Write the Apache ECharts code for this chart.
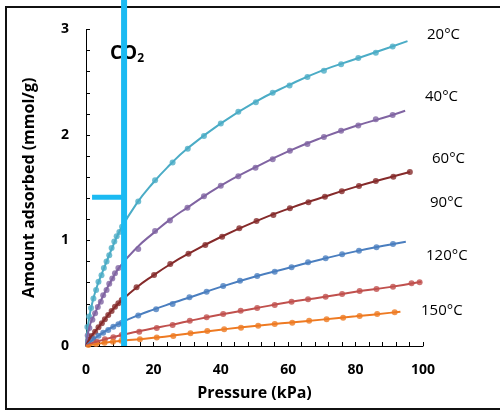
<!DOCTYPE html>
<html>
<head>
<meta charset="utf-8">
<script src="https://cdn.jsdelivr.net/npm/echarts@6/dist/echarts.min.js"></script>
<style>
  html, body { margin: 0; padding: 0; background: #fff; }
  #chart { width: 500px; height: 411px; }
</style>
</head>
<body>
<div id="chart"></div>
<script>
var t20 = [[0.4,0.18],[0.9,0.28],[1.5,0.36],[2.2,0.45],[3.0,0.53],[3.7,0.61],[4.6,0.67],[5.3,0.74],[6.1,0.80],[6.9,0.86],[7.6,0.93],[8.4,0.99],[9.1,1.04],[9.9,1.08],[10.7,1.13],[15.5,1.37],[20.5,1.57],[25.7,1.74],[30.2,1.87],[35,1.99],[40,2.11],[45.2,2.22],[50.4,2.31],[55.4,2.40],[60.4,2.47],[65.7,2.55],[70.6,2.61],[75.7,2.67],[80.8,2.73],[86,2.78],[91,2.84]]
var t40 = [[0.5,0.10],[1.0,0.17],[1.9,0.25],[2.7,0.31],[3.5,0.37],[4.4,0.42],[5.1,0.48],[6.1,0.53],[6.9,0.59],[7.8,0.64],[8.6,0.69],[9.6,0.74],[15.5,0.92],[20.5,1.09],[24.9,1.19],[30.1,1.31],[35,1.42],[40,1.52],[45.2,1.61],[50.3,1.69],[55.4,1.77],[60.5,1.85],[65.7,1.915],[70.6,1.98],[75.7,2.04],[80.8,2.09],[86,2.15],[91,2.19]]
var t60 = [[0.7,0.057],[1.7,0.095],[2.7,0.136],[3.7,0.177],[4.7,0.215],[5.6,0.253],[6.6,0.294],[7.6,0.332],[8.6,0.373],[9.6,0.405],[10.6,0.436],[15,0.556],[20.2,0.673],[25,0.777],[30.4,0.875],[35.4,0.957],[40.4,1.036],[45.5,1.115],[50.6,1.185],[55.6,1.242],[60.5,1.305],[66,1.362],[70.9,1.415],[75.9,1.466],[81,1.517],[86,1.564],[91.2,1.605],[96.1,1.649]]
var t90 = [[0.7,0.041],[2.2,0.066],[3.7,0.098],[5.1,0.126],[6.6,0.152],[8.1,0.183],[9.6,0.205],[10.6,0.22],[15.5,0.29],[20.8,0.348],[25.7,0.398],[30.7,0.461],[35.8,0.515],[40.7,0.569],[45.7,0.619],[50.8,0.664],[56,0.704],[61,0.746],[65.9,0.793],[71.1,0.831],[76,0.869],[81,0.903],[86.2,0.936],[91.1,0.967]]
var t120 = [[0.7,0.026],[3.2,0.041],[5.6,0.063],[8.1,0.082],[10.6,0.104],[15.8,0.136],[21,0.17],[25.7,0.199],[30.8,0.24],[35.8,0.272],[40.7,0.303],[45.9,0.335],[50.8,0.36],[56,0.389],[61,0.42],[65.9,0.443],[71.1,0.467],[76,0.493],[81.2,0.521],[86.2,0.54],[91.1,0.562],[96.6,0.594],[99,0.604]]
var t150 = [[0.7,0.01],[3,0.02],[5.5,0.03],[8,0.04],[10.5,0.05],[16,0.063],[21,0.08],[25.9,0.095],[31,0.12],[36,0.142],[41,0.158],[46,0.173],[51.1,0.192],[56,0.209],[61.2,0.221],[66.2,0.24],[71.4,0.253],[76.3,0.268],[81.2,0.284],[86.4,0.303],[91.6,0.319]]

// fitted curves
var f20 = [[0,0],[0.5,0.17],[1.5,0.36],[3,0.54],[5,0.71],[7.5,0.91],[10,1.09],[15,1.35],[20,1.55],[25,1.72],[30,1.87],[40,2.11],[50,2.31],[60,2.47],[70,2.61],[80,2.72],[90,2.83],[95.4,2.89]]
var f40 = [[0,0],[1,0.18],[2.5,0.30],[5,0.47],[7.5,0.62],[10,0.75],[15,0.93],[20,1.07],[25,1.2],[30,1.31],[40,1.52],[50,1.69],[60,1.845],[70,1.975],[80,2.085],[90,2.18],[94.7,2.23]]
var f60 = [[0,0],[1,0.065],[2.5,0.13],[5,0.23],[7.5,0.33],[10,0.415],[15,0.555],[20,0.67],[25,0.775],[30,0.868],[40,1.033],[50,1.177],[60,1.30],[70,1.407],[80,1.508],[90,1.597],[96.1,1.649]]
var f90 = [[0,0],[2.5,0.07],[5,0.125],[7.5,0.175],[10,0.215],[15,0.285],[20,0.345],[25,0.40],[30,0.452],[40,0.56],[50,0.657],[60,0.74],[70,0.823],[80,0.897],[90,0.96],[94.9,0.989]]
var f120 = [[0,0],[2.5,0.035],[5,0.058],[10,0.1],[15,0.135],[20,0.168],[25,0.198],[30,0.233],[40,0.298],[50,0.356],[60,0.414],[70,0.462],[80,0.514],[90,0.558],[99.5,0.61]]
var f150 = [[0,0],[5,0.028],[10,0.048],[15,0.062],[20,0.078],[25,0.095],[30,0.116],[40,0.155],[50,0.19],[60,0.22],[70,0.25],[80,0.281],[90,0.314],[93.3,0.325]]

var temps = ['20°C', '40°C', '60°C', '90°C', '120°C', '150°C']
var colors = ['#4bacc6', '#8064a2', '#852a2a', '#4a7ebf', '#c0504d', '#ee7a22']

// blue marker drawn over the plot
var markV = [[11.3, 0], [11.3, 3.3]]
var markH = [[1.8, 1.41], [11.3, 1.41]]

var points = [t20, t40, t60, t90, t120, t150]
var fits = [f20, f40, f60, f90, f120, f150]
var series = []
points.forEach(function (pts, i) {
  series.push({
    name: temps[i] + ' fit',
    type: 'line',
    data: fits[i],
    smooth: 0.5,
    showSymbol: false,
    lineStyle: { color: colors[i], width: 2 },
    silent: true
  })
  series.push({
    name: temps[i],
    type: 'scatter',
    data: pts,
    symbolSize: 6,
    itemStyle: { color: colors[i] }
  })
})
;[markV, markH].forEach(function (d, i) {
  series.push({
    type: 'line',
    data: d,
    clip: false,
    showSymbol: false,
    z: 10,
    lineStyle: { color: '#1bbaf2', width: i === 0 ? 6 : 5, cap: 'butt' }
  })
})

var font = 'Open Sans'
var chart = echarts.init(document.getElementById('chart'))
chart.setOption({
  animation: false,
  grid: { left: 86, right: 77, top: 29.5, bottom: 65 },
  xAxis: {
    type: 'value',
    min: 0,
    max: 100,
    interval: 20,
    name: 'Pressure (kPa)',
    nameLocation: 'middle',
    nameGap: 39,
    nameTextStyle: { fontFamily: font, fontWeight: 'bold', fontSize: 16, color: '#000' },
    axisLine: { lineStyle: { color: '#000', width: 1 } },
    axisTick: { inside: true, length: 4, lineStyle: { color: '#000' } },
    minorTick: { show: true, splitNumber: 5, length: 4, lineStyle: { color: '#000' } },
    axisLabel: { margin: 17, fontFamily: font, fontWeight: 'bold', fontSize: 14, color: '#000' },
    splitLine: { show: false }
  },
  yAxis: {
    type: 'value',
    min: 0,
    max: 3,
    interval: 1,
    name: 'Amount adsorbed (mmol/g)',
    nameLocation: 'middle',
    nameGap: 49,
    nameTextStyle: { fontFamily: font, fontWeight: 'bold', fontSize: 16, color: '#000' },
    axisLine: { show: true, lineStyle: { color: '#000', width: 1 } },
    axisTick: { show: true, inside: true, length: 4, lineStyle: { color: '#000' } },
    minorTick: { show: true, splitNumber: 5, length: 4, lineStyle: { color: '#000' } },
    axisLabel: { margin: 17, fontFamily: font, fontWeight: 'bold', fontSize: 14, color: '#000' },
    splitLine: { show: false }
  },
  series: series,
  graphic: [
    {
      type: 'rect',
      shape: { x: 6, y: 7, width: 510, height: 402 },
      style: { fill: null, stroke: '#111', lineWidth: 2 },
      z: -1
    },
    {
      type: 'text',
      left: 110,
      top: 44,
      style: {
        text: '{a|CO}{b|2}',
        rich: {
          a: { fontFamily: font, fontWeight: 'bold', fontSize: 19, fill: '#000' },
          b: { fontFamily: font, fontWeight: 'bold', fontSize: 12, fill: '#000', padding: [11, 0, 0, 0] }
        }
      }
    },
    { type: 'text', left: 427, top: 27, style: { text: temps[0], font: '15px "Open Sans"', fill: '#000' } },
    { type: 'text', left: 425, top: 89, style: { text: temps[1], font: '15px "Open Sans"', fill: '#000' } },
    { type: 'text', left: 432, top: 151, style: { text: temps[2], font: '15px "Open Sans"', fill: '#000' } },
    { type: 'text', left: 430, top: 195, style: { text: temps[3], font: '15px "Open Sans"', fill: '#000' } },
    { type: 'text', left: 426, top: 248, style: { text: temps[4], font: '15px "Open Sans"', fill: '#000' } },
    { type: 'text', left: 421, top: 303, style: { text: temps[5], font: '15px "Open Sans"', fill: '#000' } }
  ]
})
</script>
</body>
</html>
